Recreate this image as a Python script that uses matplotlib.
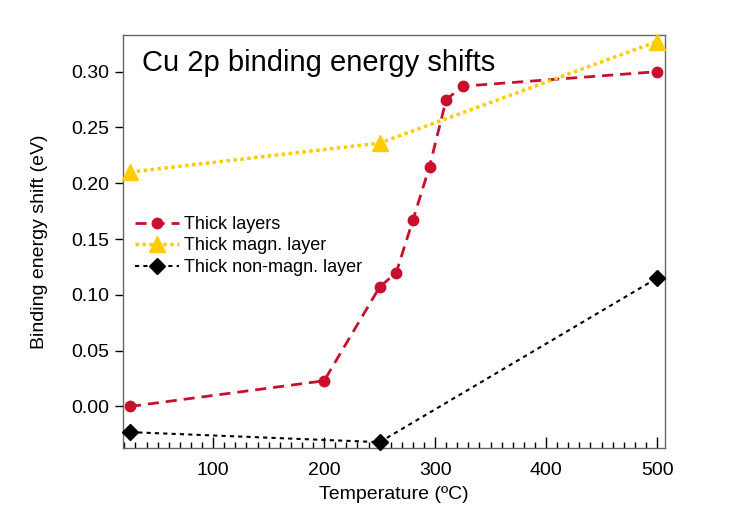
import matplotlib.pyplot as plt
from matplotlib.ticker import MultipleLocator

plt.rcParams['font.family'] = ['Liberation Sans', 'DejaVu Sans']

# Data
thick_T = [25, 200, 250, 265, 280, 295, 310, 325, 500]
thick_shift = [0.000, 0.023, 0.107, 0.120, 0.167, 0.215, 0.275, 0.287, 0.300]

magn_T = [25, 250, 500]
magn_shift = [0.210, 0.236, 0.327]

nonmagn_T = [25, 250, 500]
nonmagn_shift = [-0.023, -0.032, 0.115]

fig = plt.figure(figsize=(7.47, 5.28), dpi=100)
ax = fig.add_axes([0.165, 0.152, 0.725, 0.782])

ax.plot(thick_T, thick_shift, color='#c8102e', linestyle=(0, (4, 2.5)), linewidth=2,
        marker='o', markersize=7.5, label='Thick layers', clip_on=False, zorder=3)
ax.plot(magn_T, magn_shift, color='#ffcc00', linestyle=(0, (1, 1)), linewidth=2.5,
        marker='^', markersize=11, label='Thick magn. layer', clip_on=False, zorder=4)
ax.plot(nonmagn_T, nonmagn_shift, color='black', linestyle=(0, (2, 2)), linewidth=1.5,
        marker='D', markersize=8, label='Thick non-magn. layer', clip_on=False, zorder=3)

ax.set_xlim(19, 507)
ax.set_ylim(-0.037, 0.333)

ax.xaxis.set_major_locator(MultipleLocator(100))
ax.xaxis.set_minor_locator(MultipleLocator(10))
ax.yaxis.set_major_locator(MultipleLocator(0.05))
ax.yaxis.set_major_formatter(plt.FormatStrFormatter('%.2f'))

ax.tick_params(axis='x', which='major', direction='in', length=8, width=1, labelsize=14, pad=10)
ax.tick_params(axis='x', which='minor', direction='in', length=4, width=1)
ax.tick_params(axis='y', which='major', direction='out', length=6, width=1, labelsize=14, pad=4)

for s in ax.spines.values():
    s.set_color('#666666')
    s.set_linewidth(1)

ax.set_xlabel('Temperature (ºC)', fontsize=14, labelpad=5)
ax.set_ylabel('Binding energy shift (eV)', fontsize=14, labelpad=17)

ax.text(0.035, 0.965, 'Cu 2p binding energy shifts', transform=ax.transAxes,
        fontsize=21, ha='left', va='top')

ax.legend(loc='center left', bbox_to_anchor=(0.022, 0.489), frameon=False,
          fontsize=13, borderpad=0, borderaxespad=0, handlelength=2.4,
          handletextpad=0.3, labelspacing=0.25)

fig.savefig('out.png', dpi=100)
